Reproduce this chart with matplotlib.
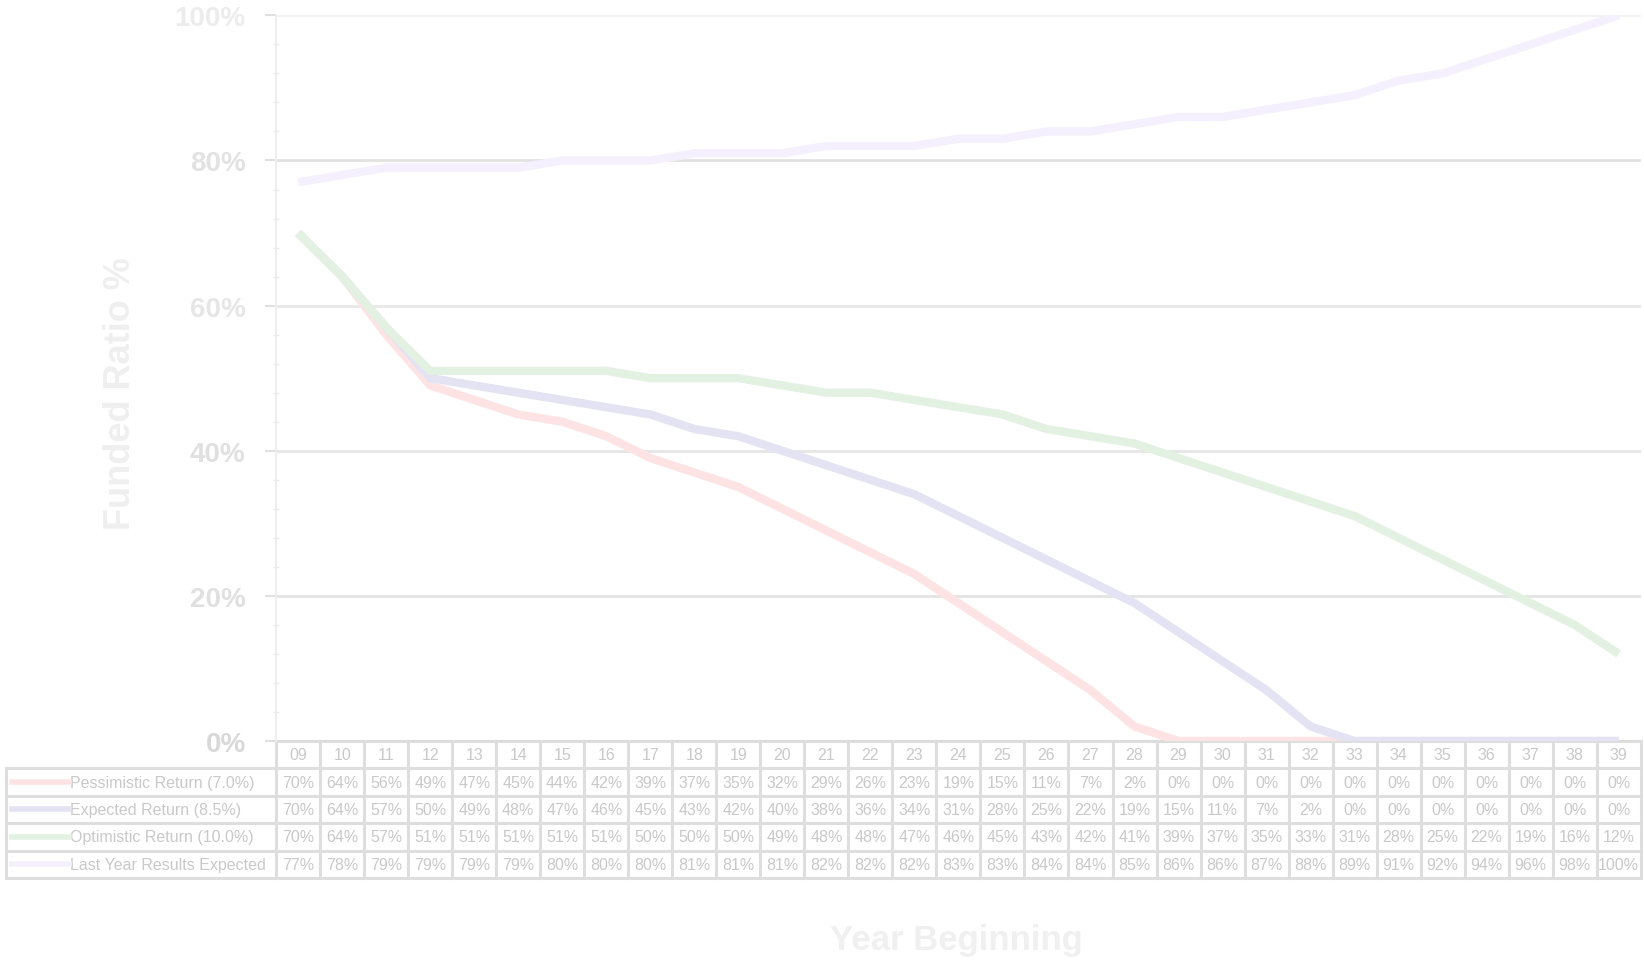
import numpy as np
import matplotlib.pyplot as plt
from matplotlib.ticker import MultipleLocator, FuncFormatter

years = ["09", "10", "11", "12", "13", "14", "15", "16", "17", "18", "19", "20",
         "21", "22", "23", "24", "25", "26", "27", "28", "29", "30", "31", "32",
         "33", "34", "35", "36", "37", "38", "39"]
series_names = ["Pessimistic Return (7.0%)", "Expected Return (8.5%)",
                "Optimistic Return (10.0%)", "Last Year Results Expected"]
pessimistic = [70, 64, 56, 49, 47, 45, 44, 42, 39, 37, 35, 32, 29, 26, 23, 19,
               15, 11, 7, 2, 0, 0, 0, 0, 0, 0, 0, 0, 0, 0, 0]
expected = [70, 64, 57, 50, 49, 48, 47, 46, 45, 43, 42, 40, 38, 36, 34, 31,
            28, 25, 22, 19, 15, 11, 7, 2, 0, 0, 0, 0, 0, 0, 0]
optimistic = [70, 64, 57, 51, 51, 51, 51, 51, 50, 50, 50, 49, 48, 48, 47, 46,
              45, 43, 42, 41, 39, 37, 35, 33, 31, 28, 25, 22, 19, 16, 12]
last_year = [77, 78, 79, 79, 79, 79, 80, 80, 80, 81, 81, 81, 82, 82, 82, 83,
             83, 84, 84, 85, 86, 86, 87, 88, 89, 91, 92, 94, 96, 98, 100]

all_series = [pessimistic, expected, optimistic, last_year]
line_colors = ["#fde3e3", "#e3e3f3", "#e3f1e3", "#f5f0fd"]
text_gray = "#c9c9c9"
edge_gray = "#dedede"

plt.rcParams['font.family'] = ['Liberation Sans', 'DejaVu Sans']

fig = plt.figure(figsize=(16.44, 9.62), dpi=100)
ax = fig.add_axes([0.168, 0.2287, 0.830, 0.7543])

x = np.arange(len(years))
yticks = list(range(0, 101, 20))

# horizontal grid, fading towards the top like the source image
grid_cols = ["#dadada", "#e4e4e4", "#e6e6e6", "#e8e8e8", "#e2e2e2", "#f2f2f2"]
for v, c in zip(yticks, grid_cols):
    ax.axhline(v, color=c, lw=2, zorder=1)

for vals, col in zip(all_series, line_colors):
    ax.plot(x, vals, color=col, lw=6, solid_capstyle='butt', zorder=3)

ax.set_xlim(-0.5, len(years) - 0.5)
ax.set_ylim(0, 100)
ax.set_xticks([])
ax.set_yticks(yticks)
ax.yaxis.set_minor_locator(MultipleLocator(4))
ax.yaxis.set_major_formatter(FuncFormatter(lambda v, p: f"{int(v)}%"))
ax.tick_params(axis='y', which='major', length=8, width=1.5, color="#e0e0e0",
               pad=14, labelsize=20, labelcolor="#e2e2e2")
ax.tick_params(axis='y', which='minor', length=5, width=1, direction='inout',
               color="#ececec")
tick_cols = ["#d8d8d8", "#e0e0e0", "#e0e0e0", "#e6e6e6", "#e2e2e2", "#ececec"]
for lab, c in zip(ax.get_yticklabels(), tick_cols):
    lab.set_color(c)
    lab.set_fontweight('bold')

for s in ["top", "right", "bottom"]:
    ax.spines[s].set_visible(False)
ax.spines["left"].set_color("#eeeeee")
ax.spines["left"].set_linewidth(1.5)

# data table under the chart
ax_w_px = 0.830 * 1644
ax_h_px = 0.7543 * 962
label_w = 270 / ax_w_px
col_w = 1.0 / len(years)
tbl_h = 137 / ax_h_px
cell_text = [[name] + [f"{v}%" for v in vals] for name, vals in zip(series_names, all_series)]
tbl = ax.table(cellText=cell_text, colLabels=[""] + years,
               colWidths=[label_w] + [col_w] * len(years),
               cellLoc='center',
               bbox=[-label_w, -tbl_h, 1 + label_w, tbl_h])
tbl.auto_set_font_size(False)
tbl.set_fontsize(11.5)
for (r, c), cell in tbl.get_celld().items():
    cell.set_edgecolor(edge_gray)
    cell.set_linewidth(2.2)
    cell.get_text().set_color(text_gray)
    if c == 0:
        if r == 0:
            cell.visible_edges = ""
        else:
            cell._loc = 'left'
            cell.PAD = 0.235
            cell.get_text().set_ha('left')

# legend swatches inside row labels
for i, col in enumerate(line_colors):
    yc = -tbl_h + tbl_h * (3.5 - i) / 5
    ax.plot([-label_w + 5.5 / ax_w_px, -label_w + 63 / ax_w_px], [yc, yc],
            transform=ax.transAxes, color=col, lw=4, clip_on=False, zorder=5)

fig.text(0.073, 0.591, "Funded Ratio %", rotation=90, ha='center', va='center',
         fontsize=26, fontweight='bold', color="#efefef")
fig.text(0.582, 0.022, "Year Beginning", ha='center', va='center',
         fontsize=25, fontweight='bold', color="#f0f0f0")

fig.savefig("out.png", dpi=100, facecolor="white")
